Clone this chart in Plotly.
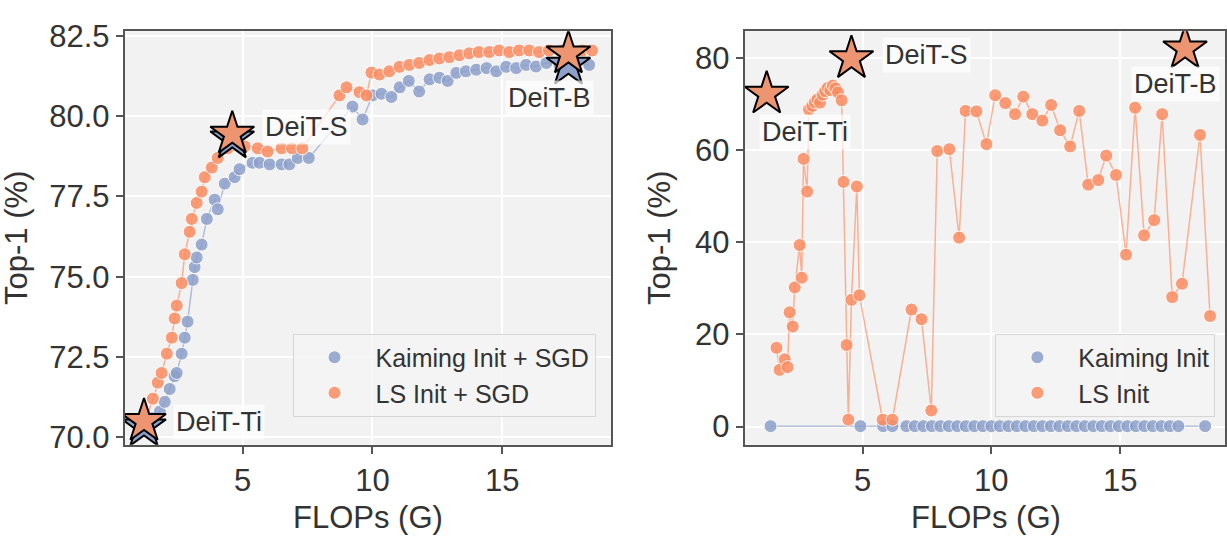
import plotly.graph_objects as go

# ---------------- data ----------------
# Left panel: Kaiming Init + SGD
left_kaiming_x = [1.3, 1.55, 1.81, 2.0, 2.19, 2.38, 2.46, 2.65, 2.77, 2.88, 3.08, 3.15, 3.23, 3.42,
                  3.62, 3.92, 4.04, 4.31, 4.69, 4.88, 5.38, 5.65, 6.04, 6.5, 6.8, 7.12, 7.55,
                  9.23, 9.62, 10.0, 10.35, 10.73, 11.05, 11.4, 11.8, 12.2, 12.58, 12.9, 13.23,
                  13.6, 14.0, 14.4, 14.77, 15.15, 15.54, 15.92, 16.3, 16.7, 17.2, 17.85, 18.35]
left_kaiming_y = [70.4, 70.6, 70.8, 71.1, 71.5, 71.9, 72.0, 72.6, 73.1, 73.6, 74.9, 75.3, 75.6, 76.0,
                  76.8, 77.4, 77.1, 77.9, 78.1, 78.35, 78.55, 78.55, 78.5, 78.5, 78.5, 78.7, 78.7,
                  80.3, 79.9, 80.65, 80.7, 80.6, 80.9, 81.1, 80.77, 81.15, 81.2, 81.1, 81.35,
                  81.4, 81.45, 81.5, 81.4, 81.54, 81.5, 81.6, 81.55, 81.66, 81.6, 81.66, 81.6]

# Left panel: LS Init + SGD
left_ls_x = [1.3, 1.54, 1.73, 1.88, 2.08, 2.27, 2.38, 2.46, 2.65, 2.77, 2.96, 3.04, 3.23, 3.42,
             3.54, 3.81, 4.04, 4.42, 4.8, 5.08, 5.58, 5.96, 6.5, 6.9, 7.3, 8.73, 9.0, 9.5,
             9.77, 9.96, 10.27, 10.65, 11.04, 11.42, 11.8, 12.2, 12.58, 12.96, 13.35, 13.73,
             14.1, 14.5, 14.88, 15.27, 15.65, 16.04, 16.42, 16.8, 17.3, 17.7, 18.08, 18.46]
left_ls_y = [70.6, 71.2, 71.7, 72.0, 72.6, 73.1, 73.7, 74.1, 74.8, 75.7, 76.4, 76.8, 77.3, 77.65,
             78.1, 78.4, 78.7, 79.0, 79.1, 79.06, 79.0, 78.9, 79.0, 79.0, 79.0, 80.65, 80.9, 80.75,
             80.65, 81.36, 81.3, 81.4, 81.54, 81.6, 81.66, 81.75, 81.8, 81.84, 81.9, 81.96,
             82.0, 82.0, 82.05, 82.0, 82.05, 82.05, 82.0, 82.05, 82.05, 82.0, 82.05, 82.05]

# Right panel: Kaiming Init
right_kaiming_x = [1.43, 4.92, 5.8, 6.16, 6.7, 7.03, 7.36, 7.69, 8.02, 8.35, 8.68, 9.01, 9.34, 9.67,
                   10.0, 10.33, 10.66, 10.99, 11.32, 11.65, 11.98, 12.31, 12.64, 12.97, 13.3, 13.63,
                   13.96, 14.29, 14.62, 14.95, 15.28, 15.61, 15.94, 16.27, 16.6, 16.93, 17.26, 18.3]
right_kaiming_y = [0.1, 0.1, 0.1, 0.1, 0.1, 0.1, 0.1, 0.1, 0.1, 0.1, 0.1, 0.1, 0.1, 0.1,
                   0.1, 0.1, 0.1, 0.1, 0.1, 0.1, 0.1, 0.1, 0.1, 0.1, 0.1, 0.1,
                   0.1, 0.1, 0.1, 0.1, 0.1, 0.1, 0.1, 0.1, 0.1, 0.1, 0.1, 0.1]

# Right panel: LS Init
right_ls_x = [1.66, 1.78, 1.98, 2.09, 2.17, 2.29, 2.37, 2.56, 2.64, 2.71, 2.85, 2.92, 3.05, 3.15,
              3.25, 3.35, 3.45, 3.55, 3.65, 3.75, 3.85, 3.95, 4.05, 4.19, 4.26, 4.38, 4.45,
              4.57, 4.78, 4.88, 5.78, 6.16, 6.9, 7.29, 7.67, 7.9, 8.37, 8.75, 9.0, 9.42, 9.81,
              10.15, 10.54, 10.92, 11.24, 11.59, 11.98, 12.32, 12.67, 13.06, 13.41, 13.76,
              14.15, 14.46, 14.84, 15.23, 15.58, 15.93, 16.32, 16.63, 17.02, 17.4, 18.1, 18.49]
right_ls_y = [17.1, 12.3, 14.6, 12.9, 24.8, 21.7, 30.2, 39.4, 32.3, 58.1, 51.0, 68.8, 69.6, 70.4,
              71.0, 70.3, 72.0, 72.8, 73.5, 73.0, 74.0, 73.4, 72.5, 70.8, 53.1, 17.7, 1.5,
              27.5, 52.1, 28.5, 1.5, 1.5, 25.4, 23.3, 3.5, 59.8, 60.2, 41.0, 68.5, 68.4, 61.3,
              71.9, 70.2, 67.8, 71.6, 67.8, 66.4, 69.8, 64.3, 60.8, 68.5, 52.5,
              53.5, 58.8, 54.6, 37.3, 69.2, 41.5, 44.8, 67.8, 28.1, 31.0, 63.3, 24.0]

# Reference models (DeiT-Ti, DeiT-S, DeiT-B)
model_names = ["DeiT-Ti", "DeiT-S", "DeiT-B"]
model_flops = [1.2, 4.6, 17.55]
left_star_kaiming_y = [70.33, 79.3, 81.6]
left_star_ls_y = [70.5, 79.45, 81.95]
right_star_x = [1.28, 4.57, 17.52]
right_star_y = [72.2, 79.9, 82.0]

left_yticks = [70.0, 72.5, 75.0, 77.5, 80.0, 82.5]
left_yticktext = ["70.0", "72.5", "75.0", "77.5", "80.0", "82.5"]
right_yticks = [0, 20, 40, 60, 80]
x_ticks = [5, 10, 15]

# ---------------- style ----------------
BLUE = "#8da0cb"
ORANGE = "#fc8d62"
STAR_ORANGE = "#ec9570"
FONT = "Arial, Liberation Sans, sans-serif"
TXT = "#333333"
FRAME = "#555555"

W, H = 1227, 547

fig = go.Figure()


def add_series(x, y, color, name, xa, ya, legend):
    fig.add_trace(go.Scatter(x=x, y=y, mode="lines", line=dict(color=color, width=1.5),
                             opacity=0.65, showlegend=False, hoverinfo="skip",
                             xaxis=xa, yaxis=ya))
    fig.add_trace(go.Scatter(x=x, y=y, mode="markers", name=name,
                             marker=dict(color=color, size=13, opacity=0.85,
                                         line=dict(color="white", width=1)),
                             xaxis=xa, yaxis=ya, legend=legend))


add_series(left_kaiming_x, left_kaiming_y, BLUE, "Kaiming Init + SGD", "x", "y", "legend")
add_series(left_ls_x, left_ls_y, ORANGE, "LS Init + SGD", "x", "y", "legend")
add_series(right_kaiming_x, right_kaiming_y, BLUE, "Kaiming Init", "x2", "y2", "legend2")
add_series(right_ls_x, right_ls_y, ORANGE, "LS Init", "x2", "y2", "legend2")

# stars
fig.add_trace(go.Scatter(x=model_flops, y=left_star_kaiming_y, mode="markers", showlegend=False,
                         marker=dict(symbol="star", size=33, color=BLUE,
                                     line=dict(color="black", width=2)), xaxis="x", yaxis="y"))
fig.add_trace(go.Scatter(x=model_flops, y=left_star_ls_y, mode="markers", showlegend=False,
                         marker=dict(symbol="star", size=33, color=STAR_ORANGE,
                                     line=dict(color="black", width=2)), xaxis="x", yaxis="y"))
fig.add_trace(go.Scatter(x=right_star_x, y=right_star_y, mode="markers", showlegend=False,
                         marker=dict(symbol="star", size=33, color=STAR_ORANGE,
                                     line=dict(color="black", width=2)), xaxis="x2", yaxis="y2"))

# geometry (pixels)
L_X0, L_X1 = 125, 612
R_X0, R_X1 = 746, 1227
Y_TOP, Y_BOT = 20, 451
ydom = [(H - Y_BOT) / H, (H - Y_TOP) / H]

axis_common = dict(showline=True, linecolor=FRAME, linewidth=2, mirror=True,
                   ticks="outside", ticklen=7, tickwidth=1.5, tickcolor=FRAME,
                   showgrid=True, gridcolor="white", gridwidth=1.5, zeroline=False,
                   tickfont=dict(family=FONT, size=31, color=TXT))

fig.update_layout(
    width=W, height=H, margin=dict(l=0, r=0, t=0, b=0),
    paper_bgcolor="white", plot_bgcolor="#f2f2f2",
    xaxis=dict(domain=[L_X0 / W, L_X1 / W], range=[0.46, 19.19], anchor="y",
               tickvals=x_ticks, **axis_common),
    yaxis=dict(domain=ydom, range=[69.76, 82.65], anchor="x",
               tickvals=left_yticks, ticktext=left_yticktext, **axis_common),
    xaxis2=dict(domain=[R_X0 / W, R_X1 / W], range=[0.43, 19.07], anchor="y2",
                tickvals=x_ticks, **axis_common),
    yaxis2=dict(domain=ydom, range=[-3.96, 85.8], anchor="x2",
                tickvals=right_yticks, **axis_common),
    legend=dict(x=293 / W, y=(H - 335) / H, xanchor="left", yanchor="top",
                bgcolor="rgba(245,245,245,0.85)", bordercolor="#d6d6d6", borderwidth=1,
                font=dict(family=FONT, size=25, color=TXT), itemwidth=72),
    legend2=dict(x=997 / W, y=(H - 335) / H, xanchor="left", yanchor="top",
                 bgcolor="rgba(245,245,245,0.85)", bordercolor="#d6d6d6", borderwidth=1,
                 font=dict(family=FONT, size=25, color=TXT), itemwidth=72),
    showlegend=True,
)

ann_font = dict(family=FONT, size=27, color=TXT)
box = "rgba(255,255,255,0.7)"
annotations = [
    # left panel labels
    dict(x=2.31, y=70.48, xref="x", yref="y", text=model_names[0], xanchor="left"),
    dict(x=5.73, y=79.66, xref="x", yref="y", text=model_names[1], xanchor="left"),
    dict(x=18.54, y=80.56, xref="x", yref="y", text=model_names[2], xanchor="right"),
    # right panel labels
    dict(x=0.97, y=64.0, xref="x2", yref="y2", text=model_names[0], xanchor="left"),
    dict(x=5.74, y=80.6, xref="x2", yref="y2", text=model_names[1], xanchor="left"),
    dict(x=15.43, y=74.4, xref="x2", yref="y2", text=model_names[2], xanchor="left"),
]
for a in annotations:
    a.update(showarrow=False, yanchor="middle", font=ann_font, bgcolor=box, borderpad=2)

title_font = dict(family=FONT, size=31, color=TXT)
ymid = (H - (Y_TOP + Y_BOT) / 2) / H
annotations += [
    dict(x=16 / W, y=ymid, xref="paper", yref="paper", text="Top-1 (%)", textangle=-90,
         showarrow=False, font=title_font, xanchor="center", yanchor="middle"),
    dict(x=660 / W, y=ymid, xref="paper", yref="paper", text="Top-1 (%)", textangle=-90,
         showarrow=False, font=title_font, xanchor="center", yanchor="middle"),
    dict(x=(L_X0 + L_X1) / 2 / W, y=(H - 527) / H, xref="paper", yref="paper", text="FLOPs (G)",
         showarrow=False, font=title_font, xanchor="center", yanchor="middle"),
    dict(x=988 / W, y=(H - 527) / H, xref="paper", yref="paper", text="FLOPs (G)",
         showarrow=False, font=title_font, xanchor="center", yanchor="middle"),
]
fig.update_layout(annotations=annotations)

fig.write_html("out.html")
